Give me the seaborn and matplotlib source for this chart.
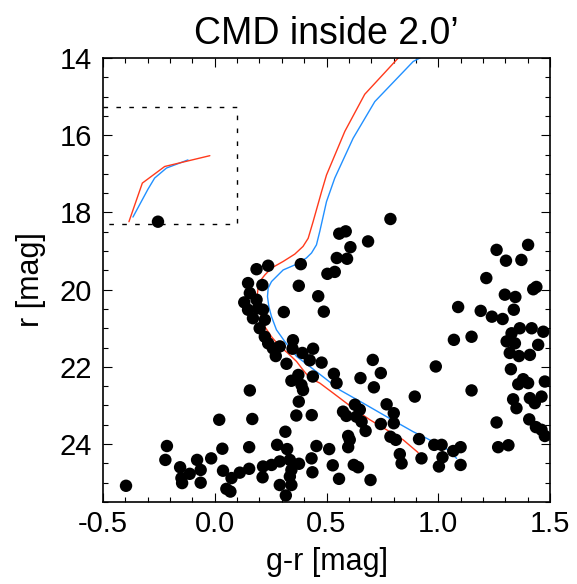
import matplotlib
matplotlib.use("Agg")
import matplotlib.pyplot as plt
from matplotlib.ticker import MultipleLocator, FormatStrFormatter
import pandas as pd
import seaborn as sns

# stars inside 2.0' : colour g-r and magnitude r
star_gr = [-0.254, 0.786, 0.557, 0.586, 0.686, 0.607, 0.546, 0.592, 0.385, 0.504,
           0.537, 0.376, 0.463, 0.488, 0.309, 0.187, 0.239, 0.149, 0.213, 0.157,
           0.132, 0.187, 0.149, 0.194, 0.216, 0.171, 0.224, 0.201, 0.224, 0.239,
           0.260, 0.291, 0.273, 0.321, 0.350, 0.348, 0.392, 0.440, 0.425, 0.478,
           0.374, 0.439, 0.343, 0.388, 0.395, 0.376, 0.365, 0.434, 0.157, 0.168,
           0.020, 0.316, 0.034, 0.154, -0.016, 0.279, 0.324, 0.455, 0.433, 0.037,
           0.075, 0.112, 0.154, 0.052, 0.070, 0.216, 0.214, 0.254, 0.291, 0.336,
           0.377, 0.343, 0.336, 0.343, 0.291, 0.318, 0.437, 0.512, 0.528, -0.214,
           -0.221, -0.155, -0.149, -0.112, -0.079, -0.063, -0.063, -0.146, -0.397,
           0.533, 0.545, 0.652, 0.743, 0.707, 0.712, 0.989, 0.895, 0.574, 0.627,
           0.649, 0.634, 0.657, 0.675, 0.769, 0.801, 0.801, 0.743, 0.786, 0.810,
           0.828, 0.836, 0.597, 0.604, 0.597, 0.622, 0.641, 0.556, 0.697, 0.914,
           0.925, 0.982, 1.015, 1.019, 1.003, 1.067, 1.100, 1.100, 1.149, 1.261,
           1.268, 1.314, 1.261, 1.402, 1.303, 1.372, 1.215, 1.298, 1.345, 1.425,
           1.439, 1.089, 1.190, 1.240, 1.288, 1.338, 1.070, 1.149, 1.306, 1.328,
           1.365, 1.418, 1.470, 1.447, 1.410, 1.361, 1.320, 1.343, 1.325, 1.358,
           1.380, 1.402, 1.477, 1.462, 1.410, 1.432, 1.335, 1.350, 1.407, 1.437,
           1.462, 1.477, 0.589]
star_r = [18.24, 18.17, 18.55, 18.49, 18.75, 18.90, 19.18, 19.20, 19.34, 19.59,
          19.54, 19.90, 20.17, 20.57, 20.58, 19.47, 19.38, 19.83, 19.88, 20.09,
          20.33, 20.26, 20.52, 20.48, 20.52, 20.74, 20.78, 21.00, 21.22, 21.39,
          21.52, 21.47, 21.72, 21.92, 21.31, 21.53, 21.64, 21.53, 21.83, 21.89,
          22.21, 22.25, 22.36, 22.47, 22.60, 22.90, 23.26, 23.25, 22.61, 23.35,
          23.37, 23.68, 24.12, 24.08, 24.37, 24.02, 24.13, 24.05, 24.37, 24.69,
          24.88, 24.74, 24.64, 25.16, 25.23, 24.58, 24.86, 24.54, 24.45, 24.41,
          24.51, 24.67, 24.84, 25.06, 25.06, 25.33, 24.73, 24.13, 24.55, 24.05,
          24.41, 24.60, 24.88, 24.77, 24.41, 24.67, 25.00, 25.01, 25.08,
          22.18, 22.42, 22.29, 22.16, 21.82, 22.53, 21.99, 22.77, 23.16, 22.98,
          23.11, 23.29, 23.42, 23.66, 22.97, 23.20, 23.46, 23.48, 23.81, 23.89,
          24.26, 24.50, 23.79, 23.89, 24.08, 24.54, 24.60, 24.90, 24.93, 23.87,
          24.37, 24.02, 24.02, 24.34, 24.58, 24.18, 24.08, 24.54, 22.61, 23.44,
          24.08, 24.03, 18.97, 18.84, 19.25, 19.23, 19.70, 20.13, 20.19, 19.99,
          19.93, 20.45, 20.55, 20.70, 20.76, 20.52, 21.30, 21.22, 21.34, 21.13,
          21.00, 21.00, 21.09, 21.43, 21.69, 21.72, 21.64, 21.39, 22.06, 22.45,
          22.32, 22.42, 22.38, 22.77, 22.81, 22.94, 22.84, 23.07, 23.36, 23.56,
          23.63, 23.79, 23.27]

# isochrones (red and blue)
iso_red_gr = [0.840, 0.821, 0.671, 0.582, 0.500, 0.478, 0.440, 0.418, 0.395, 0.358,
              0.306, 0.254, 0.224, 0.201, 0.194, 0.189, 0.198, 0.209, 0.224, 0.254,
              0.291, 0.328, 0.366, 0.395, 0.425, 0.470, 0.530, 0.619, 0.694, 0.769,
              0.843, 0.910]
iso_red_r = [13.85, 14.00, 14.94, 15.90, 17.03, 17.46, 18.24, 18.67, 18.88, 19.08,
             19.27, 19.44, 19.62, 19.79, 19.96, 20.18, 20.44, 20.70, 20.96, 21.22,
             21.47, 21.65, 21.86, 22.08, 22.29, 22.42, 22.68, 23.07, 23.37, 23.63,
             23.89, 24.22]
iso_blue_gr = [0.935, 0.918, 0.888, 0.716, 0.619, 0.537, 0.500, 0.470, 0.455, 0.433,
               0.410, 0.366, 0.306, 0.254, 0.239, 0.236, 0.242, 0.254, 0.276, 0.313,
               0.366, 0.425, 0.492, 0.560, 0.664, 0.769, 0.888, 0.948, 1.044, 1.082]
iso_blue_r = [13.85, 14.00, 14.09, 15.13, 16.08, 17.11, 17.72, 18.49, 18.84, 19.05,
              19.18, 19.34, 19.49, 19.79, 19.96, 20.18, 20.44, 20.70, 21.04, 21.34,
              21.73, 21.99, 22.29, 22.60, 22.94, 23.29, 23.68, 23.85, 24.15, 24.37]

# horizontal branch pieces inside the dashed box
hb_red_gr = [-0.384, -0.324, -0.224, -0.022]
hb_red_r = [18.24, 17.24, 16.81, 16.53]
hb_blue_gr = [-0.366, -0.299, -0.269, -0.216, -0.120]
hb_blue_r = [18.12, 17.40, 17.11, 16.85, 16.64]

# dashed selection box
box_gr = [-0.5, 0.1, 0.1, -0.5]
box_r = [15.28, 15.28, 18.29, 18.29]

sns.set_style("ticks")
plt.rcParams['font.family'] = ['Liberation Sans', 'DejaVu Sans']
plt.rcParams['axes.unicode_minus'] = False
plt.rcParams['text.color'] = 'black'
plt.rcParams['axes.labelcolor'] = 'black'
plt.rcParams['xtick.color'] = 'black'
plt.rcParams['ytick.color'] = 'black'

fig = plt.figure(figsize=(5.77, 5.84), dpi=100)
ax = fig.add_axes([103 / 577, 1 - 502 / 584, 447 / 577, 444 / 584])

red = '#ff3a1c'
blue = '#2190ff'
sns.lineplot(x=iso_blue_gr, y=iso_blue_r, sort=False, estimator=None, color=blue, lw=1.0, ax=ax)
sns.lineplot(x=iso_red_gr, y=iso_red_r, sort=False, estimator=None, color=red, lw=1.0, ax=ax)
sns.lineplot(x=hb_blue_gr, y=hb_blue_r, sort=False, estimator=None, color=blue, lw=1.0, ax=ax)
sns.lineplot(x=hb_red_gr, y=hb_red_r, sort=False, estimator=None, color=red, lw=1.0, ax=ax)
ax.plot(box_gr, box_r, color='black', lw=1.0, linestyle=(0, (3.3, 6.0)))

stars = pd.DataFrame({'gr': star_gr, 'r': star_r})
sns.scatterplot(data=stars, x='gr', y='r', s=80, color='black', edgecolor='none',
                linewidth=0, ax=ax, zorder=3)

ax.set_xlim(-0.5, 1.5)
ax.set_ylim(25.5, 14)
ax.xaxis.set_major_locator(MultipleLocator(0.5))
ax.xaxis.set_minor_locator(MultipleLocator(0.1))
ax.xaxis.set_major_formatter(FormatStrFormatter('%.1f'))
ax.yaxis.set_major_locator(MultipleLocator(2))
ax.yaxis.set_minor_locator(MultipleLocator(0.5))
ax.tick_params(which='both', direction='in', top=True, right=True, width=0.8,
               labelsize=21, color='black', labelcolor='black')
ax.tick_params(which='major', length=6.5)
ax.tick_params(which='minor', length=3.3)
ax.tick_params(axis='x', which='major', pad=6)
ax.tick_params(axis='y', which='major', pad=8)
for sp in ax.spines.values():
    sp.set_linewidth(1.2)
    sp.set_color('black')

ax.set_xlabel('g-r [mag]', fontsize=22, labelpad=6, color='black')
ax.set_ylabel('r [mag]', fontsize=22, labelpad=10, color='black')
ax.set_title('CMD inside 2.0\u2019', fontsize=27, pad=10, color='black')

fig.savefig('out.png', dpi=100)
